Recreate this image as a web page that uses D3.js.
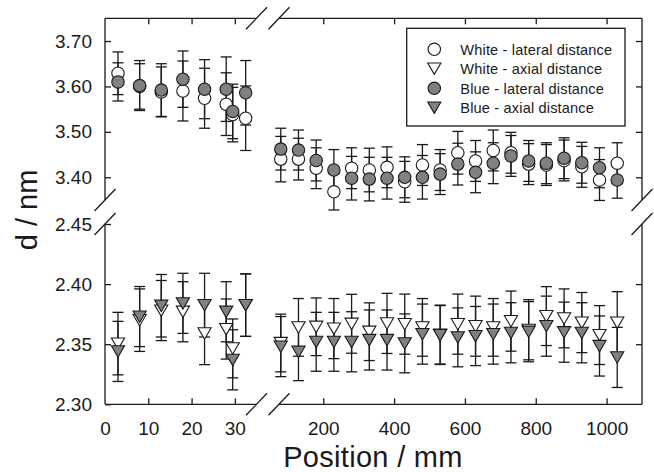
<!DOCTYPE html>
<html>
<head>
<meta charset="utf-8">
<script src="https://cdn.jsdelivr.net/npm/d3@7"></script>
<style>
  body { margin: 0; background: #fff; }
  svg { display: block; font-family: Arial, "Liberation Sans", sans-serif; }
</style>
</head>
<body>
<div id="chart"></div>
<script>
// positions (mm) - the first eight sit on the short 0-35 segment
const positions = [3, 8, 13, 18, 23, 28, 29.5, 32.5,
  80, 130, 180, 230, 280, 330, 380, 430, 480, 530, 580, 630, 680, 730, 780, 830, 880, 930, 980, 1030];

const whiteLateral = [3.629, 3.600, 3.588, 3.590, 3.574, 3.561, 3.538, 3.530,
  3.440, 3.440, 3.420, 3.368, 3.420, 3.416, 3.422, 3.390, 3.427, 3.416, 3.454, 3.436, 3.459, 3.454, 3.429, 3.427, 3.437, 3.423, 3.394, 3.431];
const whiteLateralErr = [0.047, 0.050, 0.055, 0.066, 0.066, 0.069, 0.060, 0.071,
  0.050, 0.046, 0.045, 0.040, 0.045, 0.048, 0.045, 0.045, 0.045, 0.045, 0.047, 0.045, 0.045, 0.045, 0.045, 0.045, 0.045, 0.045, 0.045, 0.045];

const blueLateral = [3.610, 3.602, 3.592, 3.616, 3.594, 3.594, 3.545, 3.586,
  3.462, 3.460, 3.437, 3.416, 3.398, 3.396, 3.398, 3.400, 3.400, 3.407, 3.429, 3.411, 3.431, 3.447, 3.436, 3.431, 3.442, 3.432, 3.421, 3.394];
const blueLateralErr = [0.042, 0.055, 0.058, 0.062, 0.065, 0.071, 0.060, 0.071,
  0.046, 0.044, 0.045, 0.045, 0.048, 0.048, 0.046, 0.045, 0.048, 0.045, 0.046, 0.045, 0.045, 0.045, 0.045, 0.045, 0.045, 0.045, 0.044, 0.040];

const whiteAxial = [2.3505, 2.370, 2.378, 2.377, 2.359, 2.3626, 2.3465, 2.3825,
  2.351, 2.364, 2.3645, 2.363, 2.367, 2.3604, 2.3673, 2.3667, 2.364, 2.358, 2.3667, 2.365, 2.364, 2.3692, 2.362, 2.3734, 2.3715, 2.368, 2.3576, 2.368];
const whiteAxialErr = [0.026, 0.026, 0.025, 0.025, 0.026, 0.025, 0.0245, 0.026,
  0.024, 0.024, 0.024, 0.025, 0.0245, 0.024, 0.025, 0.025, 0.024, 0.0245, 0.025, 0.025, 0.024, 0.025, 0.025, 0.0245, 0.0245, 0.025, 0.0245, 0.0257];

const blueAxial = [2.344, 2.373, 2.382, 2.384, 2.3825, 2.377, 2.337, 2.3825,
  2.348, 2.3437, 2.352, 2.352, 2.352, 2.3535, 2.3535, 2.3507, 2.3584, 2.3576, 2.3557, 2.3568, 2.3584, 2.3595, 2.3604, 2.365, 2.360, 2.3595, 2.3485, 2.339];
const blueAxialErr = [0.025, 0.025, 0.026, 0.025, 0.0265, 0.025, 0.025, 0.026,
  0.025, 0.024, 0.0245, 0.0245, 0.025, 0.025, 0.025, 0.0245, 0.025, 0.0245, 0.0245, 0.0246, 0.025, 0.025, 0.025, 0.025, 0.025, 0.025, 0.025, 0.025];

const xTicksLeft = [10, 20, 30];
const xTicksRight = [200, 400, 600, 800, 1000];
const xLabelsLeft = [0, 10, 20, 30];
const yTicksUpper = [3.40, 3.50, 3.60, 3.70];
const yTicksLower = [2.30, 2.35, 2.40, 2.45];

const legendLabels = ['White - lateral distance', 'White - axial distance',
  'Blue - lateral distance', 'Blue - axial distance'];

const W = 654, H = 472;
const ink = '#1a1a1a';
const grey = '#808080';

const svg = d3.select('#chart').append('svg')
  .attr('width', W).attr('height', H);

// broken axes: two x segments, two y segments
const xL = d3.scaleLinear().domain([0, 35]).range([105, 256.5]);
const xR = d3.scaleLinear().domain([75, 1100]).range([279, 642]);
const yU = d3.scaleLinear().domain([3.35, 3.75]).range([200, 18.3]);
const yB = d3.scaleLinear().domain([2.30, 2.45]).range([404.3, 224]);

const xPos = v => (v <= 35 ? xL(v) : xR(v));

const pLeft = 105, pRight = 642, pTop = 18.3, pBottom = 404.3;

// frame segments
const frame = svg.append('g').attr('stroke', ink).attr('stroke-width', 1.3).attr('fill', 'none');
[[pLeft, pTop, xL.range()[1], pTop], [xR.range()[0], pTop, pRight, pTop],
 [pLeft, pBottom, xL.range()[1], pBottom], [xR.range()[0], pBottom, pRight, pBottom],
 [pLeft, pTop, pLeft, yU.range()[0]], [pLeft, yB.range()[1], pLeft, pBottom],
 [pRight, pTop, pRight, yU.range()[0]], [pRight, yB.range()[1], pRight, pBottom]]
  .forEach(s => frame.append('line').attr('x1', s[0]).attr('y1', s[1]).attr('x2', s[2]).attr('y2', s[3]));

// break marks
const slashes = [
  [xL.range()[1], pTop], [xR.range()[0], pTop],
  [xL.range()[1], pBottom], [xR.range()[0], pBottom],
  [pLeft, yU.range()[0]], [pLeft, yB.range()[1]],
  [pRight, yU.range()[0]], [pRight, yB.range()[1]]
];
slashes.forEach(([cx, cy]) => {
  frame.append('line')
    .attr('x1', cx - 10.5).attr('y1', cy + 11)
    .attr('x2', cx + 10.5).attr('y2', cy - 11);
});

// axes (ticks inward, labels only on left/bottom)
function styleAxis(g) {
  g.select('.domain').remove();
  g.selectAll('.tick line').attr('stroke', ink).attr('stroke-width', 1.3);
  g.selectAll('.tick text').attr('fill', ink).attr('font-size', 19);
}

svg.append('g').attr('transform', `translate(0,${pBottom})`)
  .call(d3.axisBottom(xL).tickValues(xLabelsLeft).tickSizeInner(-6).tickSizeOuter(0).tickPadding(17).tickFormat(d3.format('d')))
  .call(styleAxis)
  .call(g => g.selectAll('.tick').filter(d => d === 0).select('line').remove());
svg.append('g').attr('transform', `translate(0,${pBottom})`)
  .call(d3.axisBottom(xR).tickValues(xTicksRight).tickSizeInner(-6).tickSizeOuter(0).tickPadding(17).tickFormat(d3.format('d')))
  .call(styleAxis);
svg.append('g').attr('transform', `translate(0,${pTop})`)
  .call(d3.axisTop(xL).tickValues(xTicksLeft).tickSizeInner(-6).tickSizeOuter(0).tickFormat(''))
  .call(styleAxis);
svg.append('g').attr('transform', `translate(0,${pTop})`)
  .call(d3.axisTop(xR).tickValues(xTicksRight).tickSizeInner(-6).tickSizeOuter(0).tickFormat(''))
  .call(styleAxis);

svg.append('g').attr('transform', `translate(${pLeft},0)`)
  .call(d3.axisLeft(yU).tickValues(yTicksUpper).tickSizeInner(-6).tickSizeOuter(0).tickPadding(13).tickFormat(d3.format('.2f')))
  .call(styleAxis);
svg.append('g').attr('transform', `translate(${pLeft},0)`)
  .call(d3.axisLeft(yB).tickValues(yTicksLower).tickSizeInner(-6).tickSizeOuter(0).tickPadding(13).tickFormat(d3.format('.2f')))
  .call(styleAxis);
svg.append('g').attr('transform', `translate(${pRight},0)`)
  .call(d3.axisRight(yU).tickValues(yTicksUpper).tickSizeInner(-6).tickSizeOuter(0).tickFormat(''))
  .call(styleAxis);
svg.append('g').attr('transform', `translate(${pRight},0)`)
  .call(d3.axisRight(yB).tickValues(yTicksLower.slice(1, 3)).tickSizeInner(-6).tickSizeOuter(0).tickFormat(''))
  .call(styleAxis);

// axis titles
svg.append('text')
  .attr('x', 373).attr('y', 467)
  .attr('text-anchor', 'middle').attr('font-size', 29).attr('fill', ink)
  .attr('letter-spacing', 0.3)
  .text('Position / mm');
svg.append('text')
  .attr('transform', 'translate(37,210) rotate(-90)')
  .attr('text-anchor', 'middle').attr('font-size', 29).attr('fill', ink)
  .text('d / nm');

// series
const series = [
  { name: legendLabels[0], values: whiteLateral, errs: whiteLateralErr, y: yU, shape: 'circle', fill: '#fff' },
  { name: legendLabels[1], values: whiteAxial, errs: whiteAxialErr, y: yB, shape: 'triangle', fill: '#fff' },
  { name: legendLabels[2], values: blueLateral, errs: blueLateralErr, y: yU, shape: 'circle', fill: grey },
  { name: legendLabels[3], values: blueAxial, errs: blueAxialErr, y: yB, shape: 'triangle', fill: grey }
];

const triPath = 'M-6.6,-5.6L6.6,-5.6L0,5.8Z';
const capW = 5.5;

function drawMarker(g, shape, fill) {
  if (shape === 'circle') {
    g.append('circle').attr('r', 6.2).attr('fill', fill).attr('stroke', ink).attr('stroke-width', 1.1);
  } else {
    g.append('path').attr('d', triPath).attr('fill', fill).attr('stroke', ink).attr('stroke-width', 1.1)
      .attr('stroke-linejoin', 'miter');
  }
}

const barsG = svg.append('g').attr('stroke', ink).attr('stroke-width', 1.3);
series.forEach(s => {
  s.values.forEach((v, i) => {
    const x = xPos(positions[i]);
    const y1 = s.y(v + s.errs[i]);
    const y2 = s.y(v - s.errs[i]);
    barsG.append('line').attr('x1', x).attr('x2', x).attr('y1', y1).attr('y2', y2);
    barsG.append('line').attr('x1', x - capW).attr('x2', x + capW).attr('y1', y1).attr('y2', y1);
    barsG.append('line').attr('x1', x - capW).attr('x2', x + capW).attr('y1', y2).attr('y2', y2);
  });
});

const markG = svg.append('g');
series.forEach(s => {
  markG.append('g').selectAll('g')
    .data(s.values)
    .join('g')
    .attr('transform', (v, i) => `translate(${xPos(positions[i])},${s.y(v)})`)
    .each(function () { drawMarker(d3.select(this), s.shape, s.fill); });
});

// legend
const legend = svg.append('g');
legend.append('rect')
  .attr('x', 406.7).attr('y', 28.3).attr('width', 218.3).attr('height', 97.7)
  .attr('fill', '#fff').attr('stroke', ink).attr('stroke-width', 1.3);
const legendY = [49.3, 68.6, 88.3, 107.6];
series.forEach((s, i) => {
  const row = legend.append('g').attr('transform', `translate(434.3,${legendY[i]})`);
  drawMarker(row, s.shape, s.fill);
  row.append('text').attr('x', 26).attr('y', 5.3)
    .attr('font-size', 14.6).attr('fill', ink).attr('letter-spacing', 0.15)
    .text(s.name);
});
</script>
</body>
</html>
